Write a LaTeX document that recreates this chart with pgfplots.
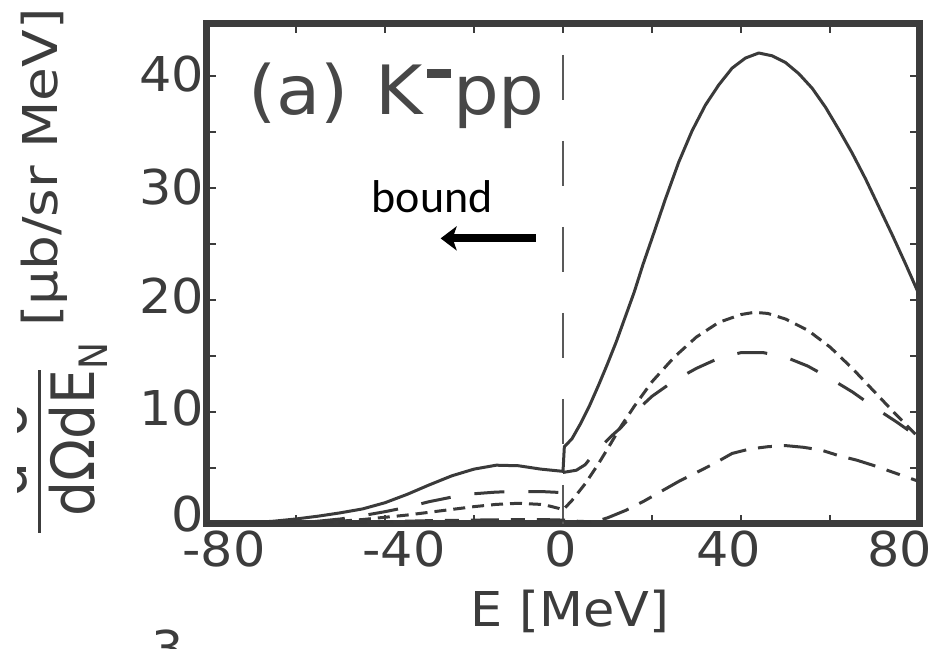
\documentclass[border=0pt]{standalone}
\usepackage{pgfplots}
\pgfplotsset{compat=1.18}
\usetikzlibrary{arrows.meta}
\usepackage{fontspec}
\setmainfont{DejaVu Sans}[FakeStretch=1.06]
\newfontfamily\boundfont{Carlito}
\definecolor{fg}{HTML}{3C3C3C}
\definecolor{cv}{HTML}{3A3A3A}
\newcommand{\sh}[2]{\makebox[0pt]{\hspace*{#1}\hspace*{#1}#2}}
\newcommand{\ry}[2]{\raisebox{#1}{#2}}
\begin{document}
\begin{tikzpicture}
\begin{axis}[
  at={(0,0)}, anchor=south west,
  scale only axis, width=356pt, height=250pt,
  xmin=-80, xmax=80, ymin=0, ymax=44.64,
  xtick={-80,-40,0,40,80},
  minor xtick={-60,-20,20,60},
  xticklabels={\sh{8.5pt}{-80},\sh{9.5pt}{-40},\sh{-1pt}{0},\sh{-6pt}{40},\sh{-9.5pt}{80}},
  ytick={0,10,20,30,40},
  minor ytick={5,15,25,35},
  yticklabels={\ry{10.5pt}{0},\ry{4pt}{10},\ry{4.5pt}{20},\ry{1.5pt}{30},\ry{2pt}{40}},
  ticklabel style={font=\fontsize{24}{28}\selectfont, text=fg},
  yticklabel style={xshift=2pt},
  axis line style={line width=3.5pt, draw=fg, line cap=rect},
  tick style={line width=1pt, draw=fg},
  major tick length=4.7pt, minor tick length=4.7pt,
  tick align=inside,
]
% vertical threshold line
\addplot[color=black!65, line width=1.4pt, dash pattern=on 22.5pt off 20.5pt, dash phase=27.5pt] coordinates {(0,44.64) (0,0)};

% solid
\addplot[cv, line width=1.5pt, line join=round] coordinates {
(-80,0.02) (-75,0.05) (-70,0.12) (-65,0.25) (-60,0.45) (-55,0.7) (-50,1.0) (-45,1.35)
(-40,1.9) (-35,2.65) (-30,3.5) (-25,4.3) (-20,4.9) (-15,5.25) (-10,5.2) (-5,4.9) (0,4.7)
(0.3,6.9) (2,7.6) (4,9.0) (6,10.6) (8,12.4) (10,14.3) (12,16.3) (14,18.5) (16,20.7)
(18,23.2) (20,25.5) (23,29.0) (26,32.3) (29,35.1) (32,37.4) (35,39.2) (38,40.7) (41,41.6)
(44,42.05) (47,41.8) (50,41.2) (53,40.2) (56,38.9) (59,37.2) (62,35.2) (65,33.1) (68,30.8)
(71,28.3) (74,25.8) (77,23.2) (80,20.5)};

% short dash
\addplot[cv, line width=1.5pt, dash pattern=on 6pt off 3.5pt, line join=round] coordinates {
(-80,0.0) (-70,0.02) (-60,0.08) (-55,0.15) (-50,0.25) (-45,0.4) (-40,0.6) (-35,0.8)
(-30,1.05) (-25,1.3) (-20,1.55) (-15,1.75) (-10,1.85) (-5,1.75) (-3,1.6) (-1,1.4) (0,1.25)
(2,2.1) (5,3.6) (8,5.4) (10,6.7) (13,8.7) (16,10.5) (20,12.7) (25,14.9) (30,16.7)
(35,18.0) (40,18.7) (43,18.9) (46,18.8) (50,18.3) (55,17.3) (60,15.8) (65,13.9)
(70,11.8) (75,9.7) (80,7.7)};

% long dash, left part
\addplot[cv, line width=1.5pt, dash pattern=on 15pt off 12pt, line join=round] coordinates {
(-80,0) (-70,0.03) (-60,0.12) (-55,0.25) (-50,0.45) (-45,0.75) (-40,1.1) (-35,1.5)
(-30,2.0) (-25,2.4) (-20,2.7) (-15,2.85) (-10,2.9) (-5,2.9) (0,2.8)};
% long dash, right part
\addplot[cv, line width=1.5pt, dash pattern=on 15pt off 12pt, line join=round] coordinates {
(0,4.6) (3,4.8) (5,5.3) (7,6.3) (9,7.1) (11,7.9) (13,8.6) (15,9.5) (17,10.3) (20,11.4)
(25,12.8) (30,13.9) (35,14.8) (40,15.3) (45,15.3) (50,14.9) (55,14.1) (60,13.0)
(65,11.8) (70,10.4) (75,9.1) (80,7.7)};

% dash-dot
\addplot[cv, line width=1.5pt, dash pattern=on 14pt off 6pt on 7pt off 6pt, line join=round] coordinates {
(-80,0) (-60,0.05) (-50,0.12) (-40,0.2) (-30,0.3) (-20,0.35) (-10,0.4) (-5,0.4) (0,0.35)
(3,0.25) (6,0.2) (8,0.3) (10,0.55) (14,1.2) (18,2.0) (22,2.9) (26,3.8) (30,4.6) (34,5.4)
(38,6.3) (42,6.7) (46,6.9) (50,7.0) (54,6.85) (58,6.6) (62,6.1) (66,5.7) (70,5.2)
(75,4.5) (80,3.8)};

% title
\node[anchor=base west, inner sep=0, text=black!72, font=\fontsize{34}{40}\selectfont]
  at (axis cs:-70.8,36.6) {(a)\hspace{13.5pt}K\hspace{2pt}\raisebox{18pt}{\rule{12pt}{4.5pt}}\hspace{1pt}pp};
% annotation
\node[anchor=base, inner sep=0, font=\boundfont\fontsize{23}{27}\selectfont, text=black]
  at (axis cs:-29.4,27.8) {bound};
\draw[line width=4pt, black, -{Stealth[length=8pt,width=12pt,inset=2pt]}]
  (axis cs:-6.1,25.5) -- (axis cs:-27.5,25.5);
\end{axis}
% x label
\node[anchor=base, inner sep=0, text=fg, font=\fontsize{24}{28}\selectfont] at (181.5pt,-51.5pt) {E [MeV]};
% y label: unit part
\node[yscale=1.08, rotate=90, anchor=base, inner sep=0, text=fg, font=\fontsize{24}{28}\selectfont]
  at (-74.5pt,178.25pt) {[μb/sr MeV]};
% y label: fraction
\node[xscale=1.15, rotate=90, anchor=base west, inner sep=0, text=fg, font=\fontsize{26}{30}\selectfont]
  at (-56pt,3.5pt) {dΩdE\raisebox{-5.6pt}{\fontsize{17}{20}\selectfont N}};
\draw[fg, line width=1.2pt] (-83.75pt,-4.5pt) -- (-83.75pt,77pt);
\node[xscale=1.15, rotate=90, anchor=base, inner sep=0, text=fg, font=\fontsize{26}{30}\selectfont]
  at (-90pt,37pt) {d\textsuperscript{2}σ};
\fill[white] (-104pt,-10pt) rectangle (-95pt,98pt);
% fragment of the next panel
\node[anchor=north, inner sep=0, text=fg, font=\fontsize{24}{28}\selectfont] at (-19.5pt,-52.5pt) {3};
\pgfresetboundingbox
\path[use as bounding box] (-103.5pt,-62.5pt) rectangle (366pt,262pt);
\end{tikzpicture}
\end{document}
